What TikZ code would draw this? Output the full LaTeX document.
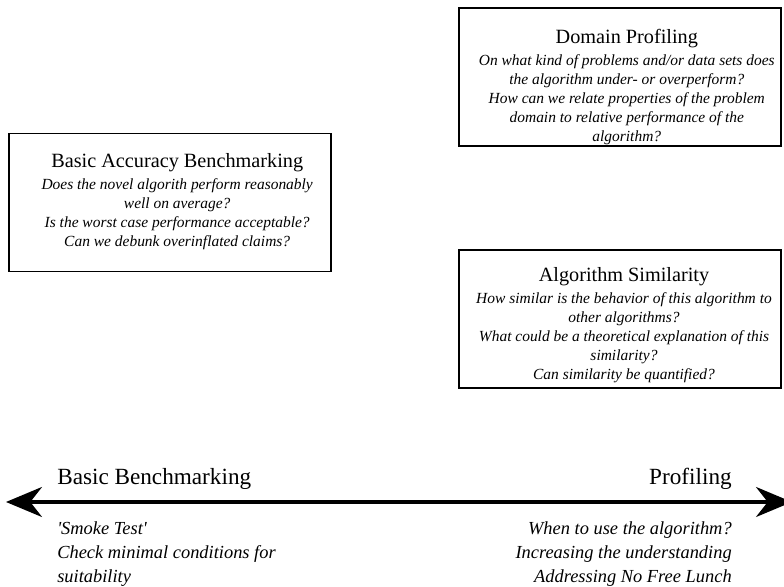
\documentclass[tikz,border=0pt]{standalone}
\usepackage{fontspec}
\setmainfont{Liberation Serif}
\usetikzlibrary{arrows.meta,positioning}

\begin{document}
\begin{tikzpicture}[
    frame/.style={draw, line width=0.9pt, minimum width=8.05cm, minimum height=3.45cm},
    boxtext/.style={align=center, inner sep=0pt, font=\fontsize{11}{13.6}\selectfont},
    axislabel/.style={inner sep=0pt, font=\fontsize{16.5}{18}\selectfont},
    note/.style={inner sep=0pt, font=\fontsize{13.1}{17.2}\selectfont\itshape},
    bigtip/.tip={Stealth[length=0.9cm, width=0.75cm]}
]
    \useasboundingbox (0, 0) rectangle (19.6, 14.675);

    % Questions per kind of study
    \node[frame] (bab) at (4.25, 9.61) {};
    \node[boxtext] (babtext) at ([xshift=0.18cm, yshift=0.02cm]bab.center)
        {{\fontsize{14.4}{16}\selectfont Basic Accuracy Benchmarking}\\[2pt]
        \textit{Does the novel algorith perform reasonably}\\
        \textit{well on average?}\\
        \textit{Is the worst case performance acceptable?}\\
        \textit{Can we debunk overinflated claims?}};

    \node[frame] (domprof) at (15.5, 12.75) {};
    \node[boxtext] (domproftext) at ([xshift=0.17cm, yshift=-0.25cm]domprof.center)
        {{\fontsize{14.4}{16}\selectfont Domain Profiling}\\[2pt]
        \textit{On what kind of problems and/or data sets does}\\
        \textit{the algorithm under- or overperform?}\\
        \textit{How can we relate properties of the problem}\\
        \textit{domain to relative performance of the}\\
        \textit{algorithm?}};

    \node[frame] (algsim) at (15.5, 6.7) {};
    \node[boxtext] (algsimtext) at ([xshift=0.1cm, yshift=-0.16cm]algsim.center)
        {{\fontsize{14.4}{16}\selectfont Algorithm Similarity}\\[2pt]
        \textit{How similar is the behavior of this algorithm to}\\
        \textit{other algorithms?}\\
        \textit{What could be a theoretical explanation of this}\\
        \textit{similarity?}\\
        \textit{Can similarity be quantified?}};

    % Axis from benchmarking to profiling
    \coordinate (lend) at (0.15, 2.125);
    \coordinate (rend) at (19.8, 2.125);
    \draw[line width=2.2pt, bigtip-bigtip] (lend) -- (rend);

    \node[axislabel, anchor=base west] (basic) at (1.425, 2.55) {Basic Benchmarking};
    \node[axislabel, anchor=base east] (prof) at (18.3, 2.55) {Profiling};

    \node[note, anchor=north west, align=left] (smoke) at (1.425, 1.645)
        {\textquotesingle Smoke Test\textquotesingle\\ Check minimal conditions for\\ suitability};
    \node[note, anchor=north east, align=right] (when) at (18.3, 1.645)
        {When to use the algorithm?\\ Increasing the understanding\\ Addressing No Free Lunch};
\end{tikzpicture}
\end{document}
